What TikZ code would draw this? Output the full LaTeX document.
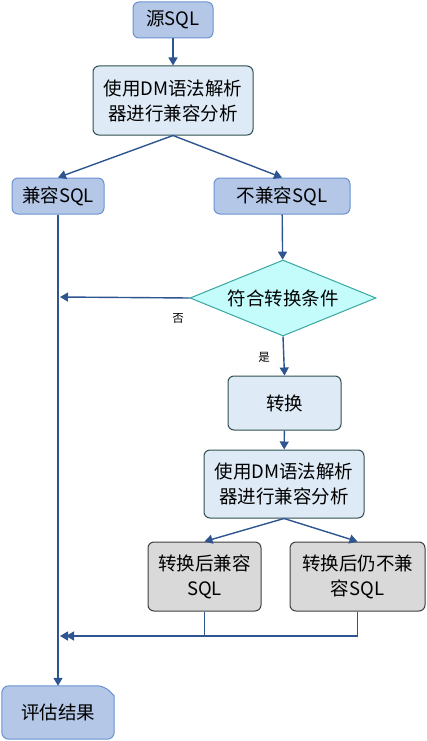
\documentclass[tikz,border=0pt]{standalone}
\usepackage{fontspec}
\setmainfont{Noto Sans CJK SC}
\usetikzlibrary{arrows.meta,shapes.geometric,backgrounds}
\definecolor{bfill}{HTML}{B4C7E7}
\definecolor{bline}{HTML}{6A92D0}
\definecolor{lfill}{HTML}{DEEAF6}
\definecolor{lline}{HTML}{2F4F4F}
\definecolor{dfill}{HTML}{C4FCFC}
\definecolor{dline}{HTML}{3AA6A0}
\definecolor{gfill}{HTML}{D9D9D9}
\definecolor{gline}{HTML}{3F3F3F}
\definecolor{aline}{HTML}{2E5590}
\tikzset{
  x=1pt,y=-1pt,
  every node/.style={font=\fontsize{18.5pt}{25pt}\selectfont, align=center, inner sep=0pt},
  bluebox/.style={draw=bline, fill=bfill, line width=1pt, rounded corners=6pt},
  lightbox/.style={draw=lline, fill=lfill, line width=1pt, rounded corners=6pt},
  graybox/.style={draw=gline, fill=gfill, line width=1pt, rounded corners=6pt},
  decbox/.style={diamond, draw=dline, fill=dfill, line width=1pt, aspect=2.45, minimum width=186pt, minimum height=76pt},
  conn/.style={draw=aline, line width=1.4pt, -{Triangle[length=8pt,width=9pt]}},
  lbl/.style={font=\fontsize{11.5pt}{13pt}\selectfont}
}
\begin{document}
\begin{tikzpicture}
\useasboundingbox (0,0) rectangle (427,741);
\node[bluebox, minimum width=80pt, minimum height=36pt] (src) at (173,20) {源SQL};
\node[lightbox, minimum width=160pt, minimum height=69pt] (an1) at (173,100.5) {使用DM语法解析\\器进行兼容分析};
\node[bluebox, minimum width=92pt, minimum height=36pt] (c1) at (58,196) {兼容SQL};
\node[bluebox, minimum width=136pt, minimum height=36pt] (nc) at (282,196) {不兼容SQL};
\node[decbox] (dec) at (283,298) {符合转换条件};
\node[lightbox, minimum width=113pt, minimum height=54pt] (tr) at (284.5,403) {转换};
\node[lightbox, minimum width=160pt, minimum height=68pt] (an2) at (284,484) {使用DM语法解析\\器进行兼容分析};
\node[graybox, minimum width=113pt, minimum height=69pt] (t1) at (204.5,576.5) {转换后兼容\\SQL};
\node[graybox, minimum width=135pt, minimum height=69pt] (t2) at (357.5,576.5) {转换后仍不兼\\容SQL};
\node[minimum width=112pt, minimum height=53pt] (res) at (58,712.5) {评估结果};
\begin{pgfonlayer}{background}
\draw[draw=bline, fill=bfill, line width=1pt, rounded corners=7pt]
  (res.north west) -- ([xshift=-10pt]res.north east) [sharp corners] -- ([yshift=-10pt]res.north east)
  [rounded corners=7pt] -- (res.south east) -- (res.south west) -- cycle;
\end{pgfonlayer}
\coordinate (no) at (60,297);
\coordinate (m1) at (60,636);
\coordinate (m2) at (66,636);
\node[lbl] (nolbl) at (178,318) {否};
\node[lbl] (yeslbl) at (264,357) {是};
\draw[conn] (src) -- (an1);
\draw[conn] (an1.south) -- (c1.north);
\draw[conn] (an1.south) -- (nc.north);
\draw[conn] (nc) -- (dec);
\draw[conn] (dec.west) -- (no);
\draw[conn] (dec.south) -- (tr.north);
\draw[conn] (tr) -- (an2);
\draw[conn] (an2.south) -- (t1.north);
\draw[conn] (an2.south) -- (t2.north);
\draw[conn] (t1.south) |- (m1);
\draw[conn] (t2.south) |- (m2);
\draw[conn] (c1.south) -- (res.north);
\end{tikzpicture}
\end{document}
